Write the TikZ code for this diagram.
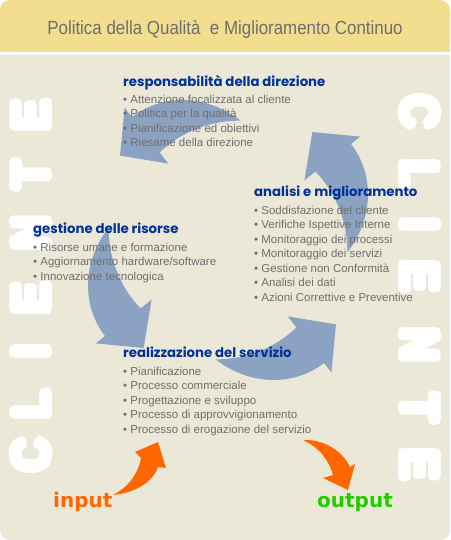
\documentclass[tikz,border=0pt]{standalone}
\usepackage{fontspec}
\setmainfont{Liberation Sans}
\newfontfamily\headfont{Poppins}
\newfontfamily\clientefont{Liberation Sans}[UprightFont={* Bold}]
\newfontfamily\iofont{DejaVu Sans}
\usepackage{tikz}
\usetikzlibrary{positioning}
\definecolor{QHeader}{RGB}{242,222,142}
\definecolor{QPanel}{RGB}{236,232,216}
\definecolor{QBlue}{RGB}{0,51,153}
\definecolor{QArrow}{RGB}{140,162,195}
\definecolor{QGray}{RGB}{110,110,110}
\definecolor{QOrange}{RGB}{255,102,0}
\definecolor{QGreen}{RGB}{34,204,0}
% heavy letter: the glyph stacked round a small circle
\newcommand\narrowglyph[1]{\scalebox{0.9}[1]{#1}}
\newcommand\heavy[1]{\leavevmode
  \rlap{\kern3.5pt\narrowglyph{#1}}\rlap{\kern-3.5pt\narrowglyph{#1}}%
  \rlap{\raisebox{3.5pt}{\narrowglyph{#1}}}\rlap{\raisebox{-3.5pt}{\narrowglyph{#1}}}%
  \rlap{\kern2.5pt\raisebox{2.5pt}{\narrowglyph{#1}}}%
  \rlap{\kern-2.5pt\raisebox{2.5pt}{\narrowglyph{#1}}}%
  \rlap{\kern2.5pt\raisebox{-2.5pt}{\narrowglyph{#1}}}%
  \rlap{\kern-2.5pt\raisebox{-2.5pt}{\narrowglyph{#1}}}%
  \narrowglyph{#1}}

\begin{document}
\begin{tikzpicture}[x=1pt, y=1pt,
          head/.style={anchor=base west, inner sep=0pt, text=QBlue,
                       font=\headfont\bfseries\fontsize{13.3}{15}\selectfont},
          list/.style={anchor=north west, inner sep=0pt, align=left, text=QGray,
                       font=\fontsize{11.5}{14.5}\selectfont},
          cliente/.style={inner sep=0pt, text=white,
                          font=\clientefont\fontsize{52}{52}\selectfont},
          io/.style={anchor=base west, inner sep=0pt,
                     font=\iofont\bfseries\fontsize{20}{20}\selectfont}
        ]
        \useasboundingbox (0,0) rectangle (450,540);
        % header and panel
        \fill[QHeader, rounded corners=10pt] (0,488) rectangle (450,540);
        \fill[QHeader] (0,488) rectangle (450,510);
        \fill[QPanel, rounded corners=10pt] (0,0) rectangle (450,485);
        \fill[QPanel] (0,40) rectangle (450,485);
        \node[inner sep=0pt, anchor=base, text=QGray, font=\fontsize{19}{19}\selectfont]
              (title) at (225,505.7)
              {\scalebox{0.89}[1]{Politica della Qualità\ \ e Miglioramento Continuo}};

        % CLIENTE on both sides
        \foreach \l/\y in {C/85, L/135, I/188, E/242, N/307, T/365, E/425}
          \node[cliente, rotate=90] (cl-\y) at (31.5,\y) {\heavy{\l}};
        \foreach \l/\y in {C/428, L/366, I/315, E/263, N/195, T/132, E/75}
          \node[cliente, rotate=-90] (cr-\y) at (419.5,\y) {\heavy{\l}};

        % cycle arrows
        \begin{scope}[shift={(228,300)}]
          \foreach \t in {84,174,264,354}
            \fill[QArrow] plot[domain=0:1, samples=30, smooth, variable=\s]
                ({\t+44*\s}:{120+36*sin(90*\s)})
              -- ({\t+44}:168) -- ({\t+58}:137) -- ({\t+44}:97)
              -- plot[domain=1:0, samples=30, smooth, variable=\s]
                ({\t+44*\s}:{120-9*\s}) -- cycle;
        \end{scope}

        % input / output
        \fill[QOrange] (113,45) .. controls (127,52) and (138,65) .. (141,82)
              -- (135,88) -- (158,98) -- (166,72) -- (158,73)
              .. controls (153,58) and (135,47) .. (113,45) -- cycle;
        \fill[QOrange] (303,100) .. controls (325,101) and (343,88) .. (350,73)
              -- (355,76) -- (348,50) -- (323,62) -- (333,65)
              .. controls (328,82) and (318,93) .. (303,100) -- cycle;
        \node[io, text=QOrange] (in)  at (53,32)  {input};
        \node[io, text=QGreen]  (out) at (317,32) {output};

        % text blocks
        \node[head] (resp) at (123,453) {responsabilità della direzione};
        \node[list] (respL) at (123,445.4)
              {• Attenzione focalizzata al cliente\\• Politica per la qualità\\
               • Pianificazione ed obiettivi\\• Riesame della direzione};
        \node[head] (anal) at (254,343) {analisi e miglioramento};
        \node[list] (analL) at (254,334.4)
              {• Soddisfazione del cliente\\• Verifiche Ispettive Interne\\
               • Monitoraggio dei processi\\• Monitoraggio dei servizi\\
               • Gestione non Conformità\\• Analisi dei dati\\
               • Azioni Correttive e Preventive};
        \node[head] (gest) at (33,306) {gestione delle risorse};
        \node[list] (gestL) at (33,297.4)
              {• Risorse umane e formazione\\• Aggiornamento hardware/software\\
               • Innovazione tecnologica};
        \node[head] (real) at (123,182) {realizzazione del servizio};
        \node[list] (realL) at (123,173.4)
              {• Pianificazione\\• Processo commerciale\\• Progettazione e sviluppo\\
               • Processo di approvvigionamento\\• Processo di erogazione del servizio};
      \end{tikzpicture}
\end{document}
